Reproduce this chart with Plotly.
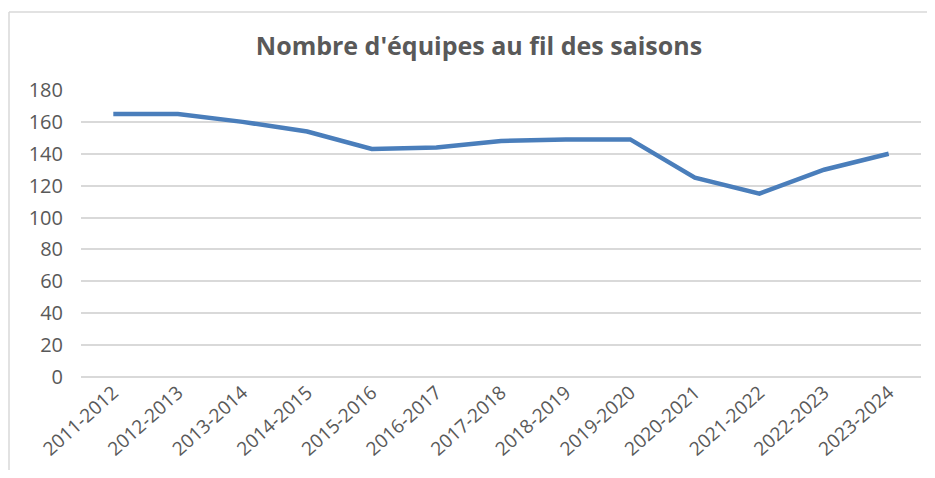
import plotly.graph_objects as go

seasons = ["2011-2012", "2012-2013", "2013-2014", "2014-2015", "2015-2016",
           "2016-2017", "2017-2018", "2018-2019", "2019-2020", "2020-2021",
           "2021-2022", "2022-2023", "2023-2024"]
teams = [165, 165, 160, 154, 143, 144, 148, 149, 149, 125, 115, 130, 140]
y_ticks = [0, 20, 40, 60, 80, 100, 120, 140, 160, 180]
title_text = "Nombre d'équipes au fil des saisons"

fig = go.Figure()
fig.add_trace(go.Scatter(
    x=seasons, y=teams, mode="lines",
    line=dict(color="#4A7EBB", width=4.5),
    hoverinfo="x+y",
))

fig.update_layout(
    width=919, height=462,
    paper_bgcolor="white", plot_bgcolor="white",
    margin=dict(l=73, r=6, t=82, b=93),
    showlegend=False,
    title=dict(text="<b>" + title_text + "</b>", x=0.5125, xanchor="center",
               y=0.918, yanchor="middle",
               font=dict(family="Open Sans, Liberation Sans, sans-serif", size=25, color="#595959")),
    font=dict(family="Open Sans, Liberation Sans, sans-serif", size=20, color="#595959"),
)
fig.update_xaxes(
    type="category", tickangle=-42, showgrid=False, showline=False,
    ticks="", range=[-0.5, len(seasons) - 0.5], automargin=False,
    tickfont=dict(size=19, color="#595959"),
)
fig.update_yaxes(
    range=[0, 180], tickvals=y_ticks, showgrid=True, gridcolor="#D9D9D9",
    gridwidth=1.5, zeroline=True, zerolinecolor="#D9D9D9", zerolinewidth=1.5,
    showline=False, ticks="", ticklabelstandoff=17, automargin=False,
    tickfont=dict(size=20, color="#595959"),
)
# chart frame (top and left edges visible, cropped at right/bottom)
fig.add_shape(type="line", xref="paper", yref="paper",
              x0=-72 / 840, x1=1.2, y0=1 + 78 / 287, y1=1 + 78 / 287,
              line=dict(color="#D9D9D9", width=1.5))
fig.add_shape(type="line", xref="paper", yref="paper",
              x0=-72 / 840, x1=-72 / 840, y0=1 + 78 / 287, y1=-1,
              line=dict(color="#D9D9D9", width=1.5))

fig.write_html("out.html")
